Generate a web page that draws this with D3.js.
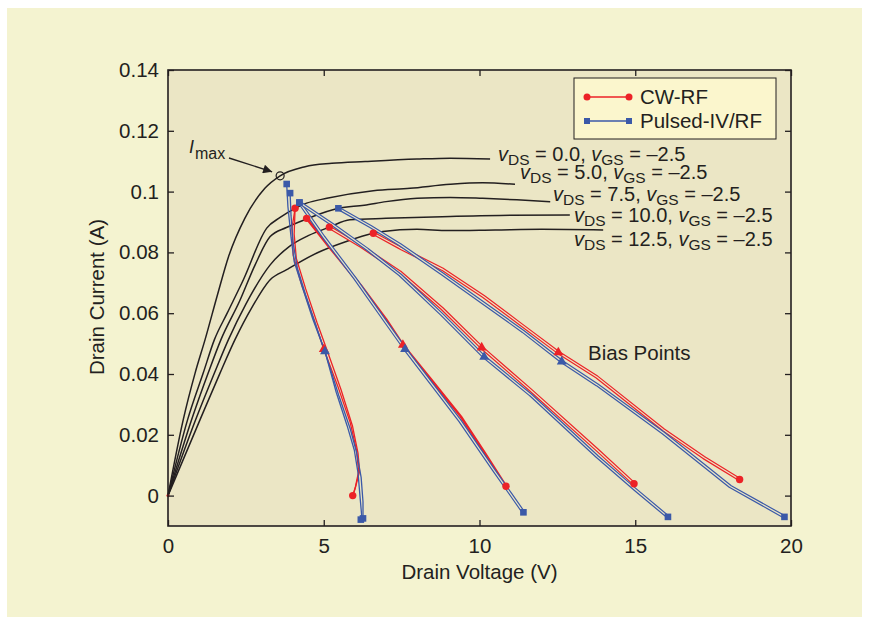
<!DOCTYPE html>
<html>
<head>
<meta charset="utf-8">
<script src="https://cdn.jsdelivr.net/npm/d3@7"></script>
<style>
  html, body { margin: 0; padding: 0; background: #ffffff; }
  svg { display: block; font-family: "Liberation Sans", Arial, Helvetica, sans-serif; }
</style>
</head>
<body>
<div id="chart"></div>
<script>
// axis ticks
const xTicks = [0, 5, 10, 15, 20];
const yTicks = [0, 0.02, 0.04, 0.06, 0.08, 0.1, 0.12, 0.14];

// DC-IV curves, one per quiescent drain bias (vGS = -2.5 for all)
const ivBias = ["0.0", "5.0", "7.5", "10.0", "12.5"];
const iv00 = [[0, 0], [0.49, 0.025], [0.87, 0.0403], [1.19, 0.0513], [1.6, 0.0665], [1.94, 0.0785],
  [2.47, 0.0913], [3.11, 0.1011], [3.6, 0.1052], [4.4, 0.1082], [5.26, 0.1093], [6.33, 0.1099],
  [7.99, 0.1107], [9.06, 0.111], [10.34, 0.1107]];
const iv50 = [[0, 0], [0.63, 0.025], [1.13, 0.0403], [1.49, 0.0513], [1.9, 0.060], [2.42, 0.071],
  [3.17, 0.088], [3.6, 0.0915], [4.08, 0.0945], [4.45, 0.0962], [5.1, 0.0978], [6.59, 0.1003],
  [7.77, 0.1011], [9.06, 0.1024], [10.1, 0.1029], [11.14, 0.1024]];
const iv75 = [[0, 0], [0.76, 0.025], [1.29, 0.0403], [1.7, 0.0513], [2.3, 0.064], [2.8, 0.076],
  [3.28, 0.0852], [3.8, 0.0882], [4.45, 0.091], [5.47, 0.0945], [6.3, 0.0955], [7.0, 0.0967],
  [8.0, 0.0978], [9.06, 0.0981], [10.1, 0.0978], [11.2, 0.0973], [12.27, 0.0967]];
const iv100 = [[0, 0], [0.89, 0.025], [1.49, 0.0403], [1.94, 0.0513], [2.5, 0.063], [3.28, 0.0759],
  [3.9, 0.082], [4.5, 0.0855], [5.18, 0.0883], [5.84, 0.0907], [7.0, 0.0912], [9.06, 0.0918],
  [11.0, 0.0922], [12.9, 0.0923]];
const iv125 = [[0, 0], [1.03, 0.025], [1.67, 0.0403], [2.15, 0.0513], [2.7, 0.062], [3.28, 0.071],
  [3.81, 0.0743], [4.78, 0.0798], [5.7, 0.0835], [6.59, 0.0863], [6.9, 0.0869], [7.99, 0.0876],
  [9.0, 0.0872], [10.5, 0.0874], [12.0, 0.0876], [13.97, 0.0874]];

// CW-RF dynamic load lines
const cw5a = [[4.08, 0.0945], [3.98, 0.088], [4.02, 0.079], [4.3, 0.069], [4.68, 0.058], [5.0, 0.0482],
  [5.45, 0.036], [5.85, 0.024], [6.05, 0.015], [6.12, 0.008], [6.02, 0.003], [5.93, 0.0]];
const cw5b = [[4.08, 0.0945], [4.05, 0.086], [4.12, 0.078], [4.42, 0.068], [4.78, 0.057], [5.1, 0.048],
  [5.55, 0.035], [5.92, 0.023], [6.1, 0.014], [6.15, 0.008], [6.0, 0.002], [5.93, 0.0]];
const cw75 = [[4.45, 0.0912], [5.2, 0.0815], [6.2, 0.069], [7.0, 0.058], [7.54, 0.0496], [8.5, 0.0375],
  [9.4, 0.026], [10.2, 0.0135], [10.85, 0.0031]];
const cw100 = [[5.18, 0.0883], [6.2, 0.082], [7.45, 0.0735], [8.8, 0.0615], [10.07, 0.0487],
  [11.63, 0.0348], [13.77, 0.0151], [14.96, 0.0039]];
const cw125 = [[6.59, 0.0863], [7.45, 0.0815], [8.8, 0.0745], [10.13, 0.0655], [11.3, 0.0565],
  [12.53, 0.0471], [13.77, 0.039], [15.9, 0.0217], [17.2, 0.0125], [18.35, 0.0053]];

// Pulsed-IV/RF dynamic load lines
const pu5a = [[3.81, 0.1025], [3.85, 0.095], [3.95, 0.085], [4.05, 0.077], [4.33, 0.068], [4.65, 0.058],
  [5.04, 0.0474], [5.4, 0.034], [5.75, 0.023], [5.98, 0.015], [6.1, 0.0075], [6.17, -0.001],
  [6.22, -0.0068], [6.19, -0.0079]];
const pu5b = [[3.92, 0.0995], [3.95, 0.092], [4.02, 0.083], [4.15, 0.075], [4.42, 0.066], [4.75, 0.056],
  [5.08, 0.046], [5.48, 0.033], [5.85, 0.022], [6.06, 0.014], [6.2, 0.006], [6.26, -0.002],
  [6.26, -0.0075]];
const pu75 = [[4.22, 0.0964], [5.0, 0.085], [6.0, 0.0715], [7.0, 0.057], [7.61, 0.0482], [8.52, 0.036],
  [9.38, 0.0245], [10.45, 0.0085], [11.0, 0.0005], [11.41, -0.0055]];
const pu100 = [[4.22, 0.0964], [5.3, 0.089], [6.4, 0.081], [7.45, 0.0726], [8.8, 0.0595], [10.15, 0.0456],
  [11.63, 0.0332], [13.77, 0.0129], [15.0, 0.002], [16.05, -0.007]];
const pu125 = [[5.47, 0.0945], [6.5, 0.0885], [7.45, 0.0825], [8.8, 0.073], [10.13, 0.0633], [11.4, 0.054],
  [12.64, 0.0441], [13.77, 0.0365], [15.9, 0.0206], [18.05, 0.003], [19.79, -0.007]];

// bias points (triangles)
const biasCW = [[5.0, 0.0482], [7.54, 0.0496], [10.07, 0.0487], [12.53, 0.0471]];
const biasPulsed = [[5.04, 0.0474], [7.61, 0.0482], [10.15, 0.0456], [12.64, 0.0441]];
const imaxPoint = [3.6, 0.1052];

// colours
const ink = "#231f20";
const red = "#ec2227";
const blue = "#3b59a8";
const plotBg = "#ebe6c5";
const pageBg = "#f4f3d0";

const W = 869, H = 624;
const m = { left: 168, right: 791, top: 70, bottom: 526 };

const svg = d3.select("#chart").append("svg")
  .attr("width", W).attr("height", H);

svg.append("rect").attr("x", 7).attr("y", 8).attr("width", 855).attr("height", 609).attr("fill", pageBg);

const x = d3.scaleLinear().domain([0, 20]).range([m.left, m.right]);
const y = d3.scaleLinear().domain([-0.01, 0.14]).range([m.bottom, m.top]);

svg.append("rect")
  .attr("x", m.left).attr("y", m.top)
  .attr("width", m.right - m.left).attr("height", m.bottom - m.top)
  .attr("fill", plotBg);

const line = d3.line().x(d => x(d[0])).y(d => y(d[1]));
const smooth = d3.line().x(d => x(d[0])).y(d => y(d[1])).curve(d3.curveMonotoneX);
const plot = svg.append("g");

// IV curves
[iv00, iv50, iv75, iv100, iv125].forEach(c => {
  plot.append("path").datum(c).attr("d", smooth)
    .attr("fill", "none").attr("stroke", ink).attr("stroke-width", 1.5);
});

// draws one trace; hollow ones look like two thin parallel lines
function trace(pts, color, kind) {
  const w = kind === "thin" ? 1.3 : kind === "solid" ? 2.6 : 3.6;
  plot.append("path").datum(pts).attr("d", line)
    .attr("fill", "none").attr("stroke", color).attr("stroke-width", w)
    .attr("stroke-linejoin", "round");
  if (kind === "hollow") {
    plot.append("path").datum(pts).attr("d", line)
      .attr("fill", "none").attr("stroke", plotBg).attr("stroke-width", 1.2)
      .attr("stroke-linejoin", "round");
  }
}

trace(cw5a, red, "thin");
trace(cw5b, red, "thin");
trace(cw75, red, "solid");
trace(cw100, red, "hollow");
trace(cw125, red, "hollow");
trace(pu5a, blue, "thin");
trace(pu5b, blue, "thin");
trace(pu75, blue, "hollow");
trace(pu100, blue, "hollow");
trace(pu125, blue, "hollow");

// bias point triangles
const tri = d3.symbol(d3.symbolTriangle).size(42);
plot.selectAll(".tcw").data(biasCW).join("path")
  .attr("d", tri).attr("fill", red)
  .attr("transform", d => `translate(${x(d[0])},${y(d[1])})`);
plot.selectAll(".tpu").data(biasPulsed).join("path")
  .attr("d", tri).attr("fill", blue)
  .attr("transform", d => `translate(${x(d[0])},${y(d[1])})`);

// end markers
const cwEnds = [cw5a, cw75, cw100, cw125].flatMap(c => [c[0], c[c.length - 1]]);
const puEnds = [pu5a, pu5b, pu75, pu100, pu125].flatMap(c => [c[0], c[c.length - 1]]);
plot.selectAll(".ccw").data(cwEnds).join("circle")
  .attr("cx", d => x(d[0])).attr("cy", d => y(d[1])).attr("r", 3.7).attr("fill", red);
plot.selectAll(".spu").data(puEnds).join("rect")
  .attr("x", d => x(d[0]) - 3.3).attr("y", d => y(d[1]) - 3.3)
  .attr("width", 6.6).attr("height", 6.6).attr("fill", blue);
plot.append("circle").attr("cx", x(0)).attr("cy", y(0)).attr("r", 1.6).attr("fill", red);

// Imax marker
plot.append("circle").attr("cx", x(imaxPoint[0])).attr("cy", y(imaxPoint[1])).attr("r", 4)
  .attr("fill", "none").attr("stroke", ink).attr("stroke-width", 1.2);
svg.append("defs").append("marker")
  .attr("id", "arr").attr("viewBox", "0 0 10 10").attr("refX", 10).attr("refY", 5)
  .attr("markerWidth", 12).attr("markerHeight", 9).attr("markerUnits", "userSpaceOnUse")
  .attr("orient", "auto")
  .append("path").attr("d", "M0,0L10,5L0,10Z").attr("fill", ink);
svg.append("line")
  .attr("x1", 229).attr("y1", 158)
  .attr("x2", x(imaxPoint[0]) - 8).attr("y2", y(imaxPoint[1]) - 4)
  .attr("stroke", ink).attr("stroke-width", 1.4).attr("marker-end", "url(#arr)");
const imaxText = svg.append("text").attr("x", 189).attr("y", 153).attr("fill", ink);
imaxText.append("tspan").attr("font-style", "italic").attr("font-size", 18).text("I");
imaxText.append("tspan").attr("font-size", 16).attr("dy", 6).attr("dx", 1).text("max");

// axes with inward ticks on all four sides
const fmt = d => String(+d.toFixed(2));
const axisStyle = g => {
  g.select(".domain").remove();
  g.selectAll("line").attr("stroke", ink).attr("stroke-width", 1.3);
  g.selectAll("text").attr("font-size", 20.5).attr("fill", ink)
    .attr("font-family", "'Liberation Sans', Arial, sans-serif");
};
svg.append("g").attr("transform", `translate(${m.left},0)`)
  .call(d3.axisLeft(y).tickValues(yTicks).tickFormat(fmt).tickSizeInner(-6).tickSizeOuter(0).tickPadding(9))
  .call(axisStyle);
svg.append("g").attr("transform", `translate(${m.right},0)`)
  .call(d3.axisRight(y).tickValues(yTicks).tickFormat("").tickSizeInner(-6).tickSizeOuter(0))
  .call(axisStyle);
svg.append("g").attr("transform", `translate(0,${m.bottom})`)
  .call(d3.axisBottom(x).tickValues(xTicks).tickFormat(d3.format("d")).tickSizeInner(-6).tickSizeOuter(0).tickPadding(12))
  .call(axisStyle);
svg.append("g").attr("transform", `translate(0,${m.top})`)
  .call(d3.axisTop(x).tickValues(xTicks).tickFormat("").tickSizeInner(-6).tickSizeOuter(0))
  .call(axisStyle);

svg.append("rect")
  .attr("x", m.left).attr("y", m.top)
  .attr("width", m.right - m.left).attr("height", m.bottom - m.top)
  .attr("fill", "none").attr("stroke", ink).attr("stroke-width", 1.6);

// axis titles
svg.append("text").attr("x", (m.left + m.right) / 2).attr("y", 579)
  .attr("text-anchor", "middle").attr("font-size", 20.5).attr("fill", ink)
  .text("Drain Voltage (V)");
svg.append("text").attr("transform", "translate(104,297) rotate(-90)")
  .attr("text-anchor", "middle").attr("font-size", 20.5).attr("fill", ink)
  .text("Drain Current (A)");

// IV curve labels
const labelPos = [[498, 161], [520, 179], [553, 201], [574, 222], [574, 246]];
ivBias.forEach((v, i) => {
  const t = svg.append("text").attr("x", labelPos[i][0]).attr("y", labelPos[i][1])
    .attr("font-size", 20).attr("fill", ink);
  t.append("tspan").attr("font-style", "italic").text("v");
  t.append("tspan").attr("font-size", 15.5).attr("dy", 4).text("DS");
  t.append("tspan").attr("dy", -4).text(` = ${v}, `);
  t.append("tspan").attr("font-style", "italic").text("v");
  t.append("tspan").attr("font-size", 15.5).attr("dy", 4).text("GS");
  t.append("tspan").attr("dy", -4).text(" = \u20132.5");
});

svg.append("text").attr("x", 588).attr("y", 360).attr("font-size", 20.5).attr("fill", ink)
  .text("Bias Points");

// legend
const lg = svg.append("g");
lg.append("rect").attr("x", 574).attr("y", 78).attr("width", 202).attr("height", 61)
  .attr("fill", "#fbf6cd").attr("stroke", ink).attr("stroke-width", 1);
const legendItems = [
  { name: "CW-RF", color: red, mark: "circle" },
  { name: "Pulsed-IV/RF", color: blue, mark: "square" }
];
legendItems.forEach((d, i) => {
  const yy = 97 + i * 24;
  lg.append("line").attr("x1", 587).attr("x2", 629).attr("y1", yy).attr("y2", yy)
    .attr("stroke", d.color).attr("stroke-width", 1.3);
  [587, 629].forEach(px => {
    if (d.mark === "circle") {
      lg.append("circle").attr("cx", px).attr("cy", yy).attr("r", 3.5).attr("fill", d.color);
    } else {
      lg.append("rect").attr("x", px - 3).attr("y", yy - 3).attr("width", 6).attr("height", 6).attr("fill", d.color);
    }
  });
  lg.append("text").attr("x", 640).attr("y", yy + 7).attr("font-size", 20.5).attr("fill", ink).text(d.name);
});
</script>
</body>
</html>
